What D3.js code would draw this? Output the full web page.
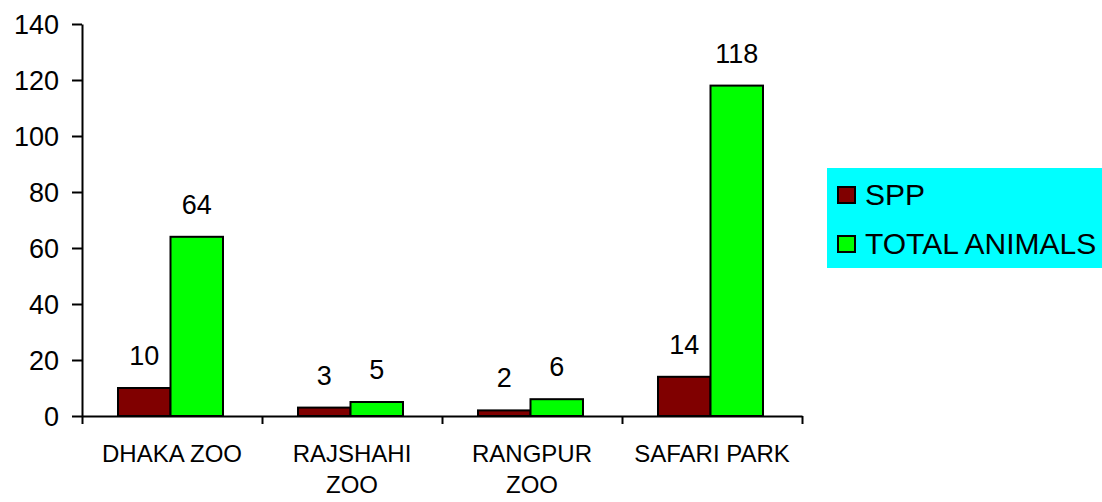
<!DOCTYPE html>
<html>
<head>
<meta charset="utf-8">
<script src="https://cdn.jsdelivr.net/npm/d3@7"></script>
<style>
  body { margin: 0; background: #fff; }
  text { font-family: "Liberation Sans", Arial, sans-serif; fill: #000; }
</style>
</head>
<body>
<div id="chart"></div>
<script>
// chart data
var categories = ["DHAKA ZOO", "RAJSHAHI ZOO", "RANGPUR ZOO", "SAFARI PARK"];
var labelLines = [["DHAKA ZOO"], ["RAJSHAHI", "ZOO"], ["RANGPUR", "ZOO"], ["SAFARI PARK"]];
var seriesNames = ["SPP", "TOTAL ANIMALS"];
var spp = [10, 3, 2, 14];
var totalAnimals = [64, 5, 6, 118];
var yTicks = [0, 20, 40, 60, 80, 100, 120, 140];
var colors = ["#800000", "#00ff00"];

var svg = d3.select("#chart")
	.append("svg")
	.attr("width", 1102)
	.attr("height", 502);

var y = d3.scaleLinear()
	.domain([0, 140])
	.range([416, 24]);

var x = d3.scaleBand()
	.domain(categories)
	.range([82, 802])
	.paddingInner(0)
	.paddingOuter(0);

// inner scale for the two series inside each band
var xs = d3.scaleBand()
	.domain(seriesNames)
	.range([36, x.bandwidth() - 39])
	.padding(0);

// y axis
var yAxis = svg.append("g")
	.attr("transform", "translate(82,0)")
	.call(d3.axisLeft(y).tickValues(yTicks).tickSize(10).tickPadding(13).tickSizeOuter(0));
yAxis.select(".domain").attr("stroke", "#000").attr("stroke-width", 2);
yAxis.selectAll(".tick line").attr("stroke", "#000").attr("stroke-width", 2);
yAxis.selectAll(".tick text").style("font-size", "27px").attr("dy", "0.36em");

// bars
var rows = categories.map((c, i) => ({cat: c, vals: [spp[i], totalAnimals[i]]}));

var groups = svg.selectAll(".grp")
	.data(rows)
	.enter()
	.append("g")
	.attr("class", "grp")
	.attr("transform", d => "translate(" + x(d.cat) + ",0)");

groups.selectAll("rect")
	.data(d => d.vals.map((v, j) => ({name: seriesNames[j], v: v, j: j})))
	.enter()
	.append("rect")
	.attr("x", d => xs(d.name))
	.attr("y", d => y(d.v))
	.attr("width", xs.bandwidth())
	.attr("height", d => y(0) - y(d.v))
	.attr("fill", d => colors[d.j])
	.attr("stroke", "#000")
	.attr("stroke-width", 2);

groups.selectAll(".val")
	.data(d => d.vals.map((v, j) => ({name: seriesNames[j], v: v})))
	.enter()
	.append("text")
	.attr("class", "val")
	.attr("x", d => xs(d.name) + xs.bandwidth() / 2)
	.attr("y", d => y(d.v) - 23)
	.style("font-size", "27px")
	.style("text-anchor", "middle")
	.text(d => d.v);

// x axis with ticks at band edges
var xEdge = d3.scaleLinear().domain([0, categories.length]).range([82, 802]);
var xAxis = svg.append("g")
	.attr("transform", "translate(0,416)")
	.call(d3.axisBottom(xEdge).tickValues(d3.range(categories.length + 1)).tickSize(8).tickSizeOuter(0).tickFormat(""));
xAxis.select(".domain").attr("stroke", "#000").attr("stroke-width", 2);
xAxis.selectAll(".tick line").attr("stroke", "#000").attr("stroke-width", 2);

svg.selectAll(".cat")
	.data(categories)
	.enter()
	.append("text")
	.attr("class", "cat")
	.attr("x", d => x(d) + x.bandwidth() / 2)
	.attr("y", 462)
	.style("font-size", "24px")
	.style("text-anchor", "middle")
	.selectAll("tspan")
	.data((d, i) => labelLines[i])
	.enter()
	.append("tspan")
	.attr("x", function() { return this.parentNode.getAttribute("x"); })
	.attr("dy", (d, i) => i === 0 ? 0 : 31)
	.text(d => d);

// legend
var legend = svg.append("g").attr("transform", "translate(827,168)");
legend.append("rect")
	.attr("width", 275)
	.attr("height", 100)
	.attr("fill", "#00ffff");

var items = legend.selectAll(".item")
	.data(seriesNames)
	.enter()
	.append("g")
	.attr("class", "item")
	.attr("transform", (d, i) => "translate(0," + (i * 49) + ")");

items.append("rect")
	.attr("x", 11)
	.attr("y", 19)
	.attr("width", 17)
	.attr("height", 16)
	.attr("fill", (d, i) => colors[i])
	.attr("stroke", "#000")
	.attr("stroke-width", 2);

items.append("text")
	.attr("x", 38)
	.attr("y", 37)
	.style("font-size", "30px")
	.text(d => d);
</script>
</body>
</html>
